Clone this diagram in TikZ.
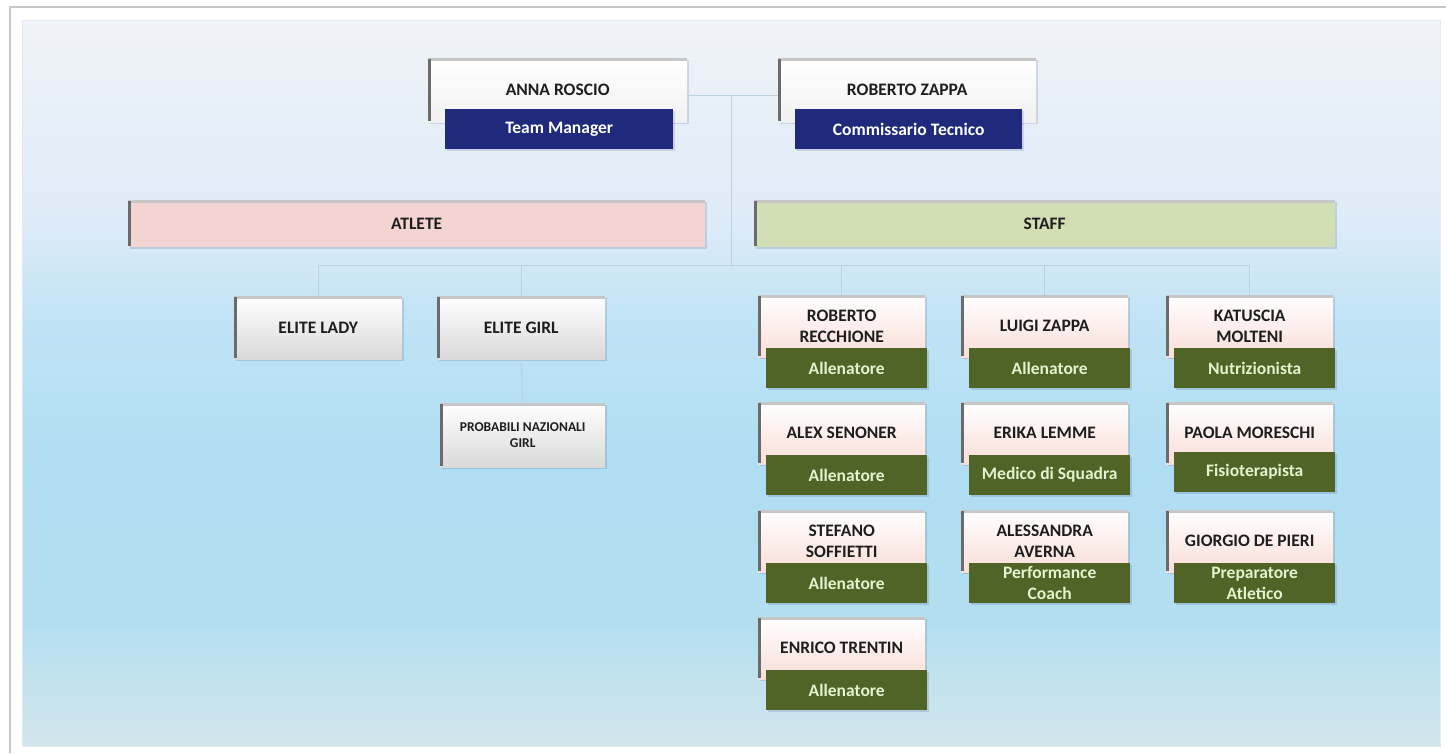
\documentclass[tikz,border=0pt]{standalone}
\usepackage{fontspec}
\setmainfont{Carlito}
\usetikzlibrary{shadows}
\definecolor{ptop}{HTML}{F0F3F7}
\definecolor{p2}{HTML}{DDEBF8}
\definecolor{p3}{HTML}{C0E3F5}
\definecolor{p4}{HTML}{AFDDF2}
\definecolor{p5}{HTML}{B3DEF0}
\definecolor{pbot}{HTML}{D2E6EC}
\definecolor{framegray}{HTML}{C8C8C8}
\definecolor{panelborder}{HTML}{E2E8EC}
\definecolor{barcol}{HTML}{6B6B6B}
\definecolor{edgetop}{HTML}{C6C6C6}
\definecolor{elitebot}{HTML}{D9D9D9}
\definecolor{namebot}{HTML}{F9DED8}
\definecolor{topbot}{HTML}{F1F1F1}
\definecolor{navy}{HTML}{1F2A7C}
\definecolor{olivebox}{HTML}{4F6426}
\definecolor{gtext}{HTML}{E6F2CF}
\definecolor{atletec}{HTML}{F3D4D3}
\definecolor{staffc}{HTML}{D2DFB5}
\definecolor{conncol}{HTML}{BCD0E0}
\definecolor{txt}{HTML}{1E1E1E}
\pgfdeclareverticalshading{panelshade}{100bp}{color(0bp)=(pbot); color(25bp)=(pbot); color(33.7bp)=(p5); color(44bp)=(p4); color(54.3bp)=(p3); color(61bp)=(p2); color(75bp)=(ptop); color(100bp)=(ptop)}
\tikzset{
  boxbase/.style={inner sep=0pt, anchor=north west, align=center, text=txt,
    font=\bfseries\fontsize{17.5}{20.5}\selectfont},
  myshadow/.style={general shadow={fill=black!70!blue, opacity=0.12, shadow xshift=1.5pt, shadow yshift=-2pt}},
  leftbar/.style={path picture={
      \fill[edgetop] (path picture bounding box.north west) rectangle ([yshift=-3pt]path picture bounding box.north east);
      \fill[barcol] ([yshift=-1pt]path picture bounding box.north west) rectangle ([xshift=3pt,yshift=1pt]path picture bounding box.south west);}},
  topname/.style={boxbase, leftbar, myshadow, minimum width=259pt, minimum height=64pt, top color=white, bottom color=topbot},
  bluebox/.style={boxbase, myshadow, minimum width=228pt, minimum height=40pt, fill=navy, text=white},
  catbar/.style={boxbase, leftbar, myshadow, minimum height=47pt},
  elitebox/.style={boxbase, leftbar, myshadow, minimum width=168pt, minimum height=63pt, top color=white, bottom color=elitebot},
  namebox/.style={boxbase, leftbar, myshadow, minimum width=167pt, minimum height=62pt, top color=white, bottom color=namebot},
  greenbox/.style={boxbase, myshadow, minimum width=161pt, minimum height=40pt, fill=olivebox, text=gtext},
  conn/.style={draw=conncol, line width=0.9pt},
}
\newcommand\staffbox[6]{%
  \node[namebox] (#1) at (#2,#3) {#4};
  \node[greenbox] (#1r) at (#2+8,#3+#6) {#5};}
\begin{document}
\begin{tikzpicture}[x=1pt,y=-1pt]
\useasboundingbox (0,0) rectangle (1446,753);
\fill[white] (0,0) rectangle (1446,753);
\draw[framegray, line width=1.2pt] (10,753) -- (10,7) -- (1446,7);
\shade[shading=panelshade] (22,20) rectangle (1440,746);
\draw[panelborder, line width=0.6pt] (22,20) rectangle (1440,746);

% top
\node[topname] (anna) at (428,58) {ANNA ROSCIO};
\node[bluebox] (annar) at (445,109) {Team Manager};
\node[topname, minimum width=258pt] (robz) at (778,58) {ROBERTO ZAPPA};
\node[bluebox, minimum width=227pt] (robzr) at (795,109) {Commissario Tecnico};

% categories
\node[catbar, minimum width=577pt, fill=atletec] (atlete) at (128,200) {ATLETE};
\node[catbar, minimum width=581pt, fill=staffc] (staff) at (754,200) {STAFF};

% atlete
\node[elitebox] (elady) at (234,296) {ELITE LADY};
\node[elitebox] (egirl) at (437,296) {ELITE GIRL};
\node[elitebox, minimum width=165pt, minimum height=64pt, font=\bfseries\fontsize{13.5}{16}\selectfont] (prob) at (440,403) {PROBABILI NAZIONALI\\GIRL};

% staff
\staffbox{rr}{758}{295}{ROBERTO\\RECCHIONE}{Allenatore}{53}
\staffbox{alex}{758}{402}{ALEX SENONER}{Allenatore}{53}
\staffbox{stef}{758}{510}{STEFANO\\SOFFIETTI}{Allenatore}{53}
\staffbox{enri}{758}{617}{ENRICO TRENTIN}{Allenatore}{53}
\staffbox{luigi}{961}{295}{LUIGI ZAPPA}{Allenatore}{53}
\staffbox{erika}{961}{402}{ERIKA LEMME}{Medico di Squadra}{53}
\staffbox{ales}{961}{510}{ALESSANDRA\\AVERNA}{Performance\\Coach}{53}
\staffbox{katu}{1166}{295}{KATUSCIA\\MOLTENI}{Nutrizionista}{53}
\staffbox{paola}{1166}{402}{PAOLA MORESCHI}{Fisioterapista}{50}
\staffbox{gior}{1166}{510}{GIORGIO DE PIERI}{Preparatore\\Atletico}{53}

% connectors
\coordinate (tj) at (731.5,95);
\coordinate (bus) at (731.5,265);
\draw[conn] ([yshift=-5pt]anna.east) -- ([yshift=-5pt]robz.west);
\draw[conn] (tj) -- (bus);
\draw[conn] (elady.north |- bus) -- (katu.north |- bus);
\foreach \n in {elady,egirl,rr,luigi,katu} \draw[conn] (\n.north |- bus) -- (\n.north);
\draw[conn] (egirl.south) -- (prob.north);
\end{tikzpicture}
\end{document}
